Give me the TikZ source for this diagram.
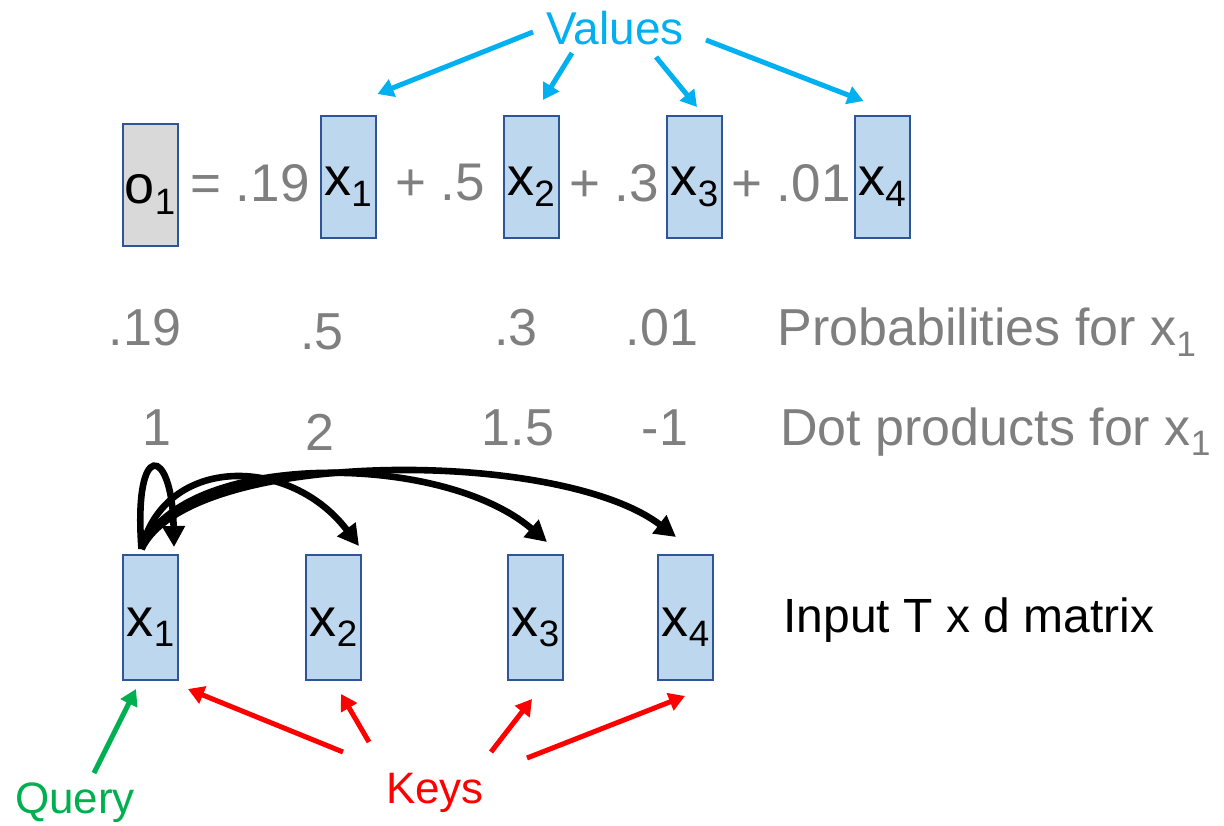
\documentclass[tikz,border=0pt]{standalone}
\usepackage{fontspec}
\setmainfont{Liberation Sans}
\usetikzlibrary{arrows.meta}
\definecolor{boxfill}{RGB}{189,215,238}
\definecolor{boxline}{RGB}{47,85,151}
\definecolor{outfill}{RGB}{217,217,217}
\definecolor{txtgray}{RGB}{127,127,127}
\definecolor{valcyan}{RGB}{0,176,240}
\definecolor{keyred}{RGB}{255,0,0}
\definecolor{qgreen}{RGB}{0,176,80}
\newcommand{\sbx}[1]{\raisebox{-0.38ex}{\scalebox{0.68}{#1}}}

\begin{document}
\begin{tikzpicture}[
    x=0.5pt, y=-0.5pt,
    vec/.style={rectangle, draw=boxline, line width=1pt, fill=boxfill,
                minimum width=27.5pt, minimum height=61pt, inner sep=0pt,
                text height=18.5pt, text depth=0pt,
                font=\fontsize{27}{30}\selectfont},
    outvec/.style={vec, fill=outfill},
    invec/.style={vec, minimum height=62.5pt},
    eqtxt/.style={text=txtgray, font=\fontsize{26.5}{30}\selectfont, inner sep=0pt},
    rowtxt/.style={text=txtgray, font=\fontsize{26}{30}\selectfont, inner sep=0pt},
    varrow/.style={-{Triangle[length=8pt,width=9pt]}, line width=2.5pt, valcyan},
    karrow/.style={-{Triangle[length=8pt,width=9pt]}, line width=2.5pt, keyred},
    qarrow/.style={-{Triangle[length=8pt,width=9pt]}, line width=2.5pt, qgreen},
    carrow/.style={-{Triangle[length=10.5pt,width=11pt]}, line width=3.3pt, black}
  ]
    \useasboundingbox (0,0) rectangle (1224,825);

    % Weighted sum of values
    \node[outvec] (o1) at (150,185) {o\sbx{1}};
    \node[eqtxt] (eq) at (250,183) {= .19};
    \node[vec] (v1) at (348,177) {x\sbx{1}};
    \node[eqtxt] (plus1) at (440,183) {+ .5};
    \node[vec] (v2) at (531,177) {x\sbx{2}};
    \node[eqtxt] (plus2) at (614,183) {+ .3};
    \node[vec] (v3) at (694.5,177) {x\sbx{3}};
    \node[eqtxt] (plus3) at (791,183) {+ .01};
    \node[vec] (v4) at (882,177) {x\sbx{4}};

    % Values
    \node[text=valcyan, font=\fontsize{23}{26}\selectfont, inner sep=0pt] (values) at (615,28) {Values};
    \draw[varrow] ([shift={(-82,4)}]values.center) -- ([shift={(1,-21)}]v1.north east);
    \draw[varrow] ([shift={(-43,25)}]values.center) -- ([shift={(12,-15)}]v2.north);
    \draw[varrow] ([shift={(41,29)}]values.center) -- ([shift={(2.5,-8)}]v3.north);
    \draw[varrow] ([shift={(91,12)}]values.center) -- ([shift={(10,-14)}]v4.north west);

    % Probabilities
    \node[rowtxt] (p1) at (145,328) {.19};
    \node[rowtxt] (p2) at (322,332) {.5};
    \node[rowtxt] (p3) at (516,328) {.3};
    \node[rowtxt] (p4) at (662,328) {.01};
    \node[rowtxt, anchor=west] (plabel) at (777,332) {Probabilities for x\sbx{1}};

    % Dot products
    \node[rowtxt] (d1) at (157,428) {1};
    \node[rowtxt] (d2) at (320,432) {2};
    \node[rowtxt] (d3) at (518,428) {1.5};
    \node[rowtxt] (d4) at (665,428) {-1};
    \node[rowtxt, anchor=west] (dlabel) at (780,432) {Dot products for x\sbx{1}};

    % Input matrix
    \node[invec] (k1) at (150.5,617.5) {x\sbx{1}};
    \node[invec] (k2) at (333.5,617.5) {x\sbx{2}};
    \node[invec] (k3) at (535.5,617.5) {x\sbx{3}};
    \node[invec] (k4) at (685.5,617.5) {x\sbx{4}};
    \node[font=\fontsize{24}{28}\selectfont, inner sep=0pt, anchor=west] (inlabel) at (783,620) {Input T x d matrix};

    % Query against every key
    \draw[carrow] ([shift={(-9,-5)}]k1.north) .. controls (133,438) and (172,445) .. ([shift={(-5,-7)}]k1.north east);
    \draw[carrow] ([shift={(-9,-5)}]k1.north) .. controls (165,455) and (290,455) .. ([shift={(-3,-8)}]k2.north east);
    \draw[carrow] ([shift={(-9,-5)}]k1.north) .. controls (180,452) and (440,450) .. ([shift={(11.5,-12)}]k3.north);
    \draw[carrow] ([shift={(-9,-5)}]k1.north) .. controls (190,448) and (560,448) .. ([shift={(-9.5,-17)}]k4.north);

    % Query and keys
    \node[text=qgreen, font=\fontsize{22}{26}\selectfont, inner sep=0pt] (query) at (75,803) {Query};
    \node[text=keyred, font=\fontsize{22}{26}\selectfont, inner sep=0pt] (keys) at (435,793) {Keys};
    \draw[qarrow] ([shift={(19,-30)}]query.center) -- ([shift={(14,8)}]k1.south west);
    \draw[karrow] ([shift={(-92,-41)}]keys.center) -- ([shift={(9,8)}]k1.south east);
    \draw[karrow] ([shift={(-66,-51)}]keys.center) -- ([shift={(7.5,13)}]k2.south);
    \draw[karrow] ([shift={(56,-41)}]keys.center) -- ([shift={(-3.5,18)}]k3.south);
    \draw[karrow] ([shift={(92,-35)}]keys.center) -- ([shift={(-0.5,15)}]k4.south);
\end{tikzpicture}
\end{document}
